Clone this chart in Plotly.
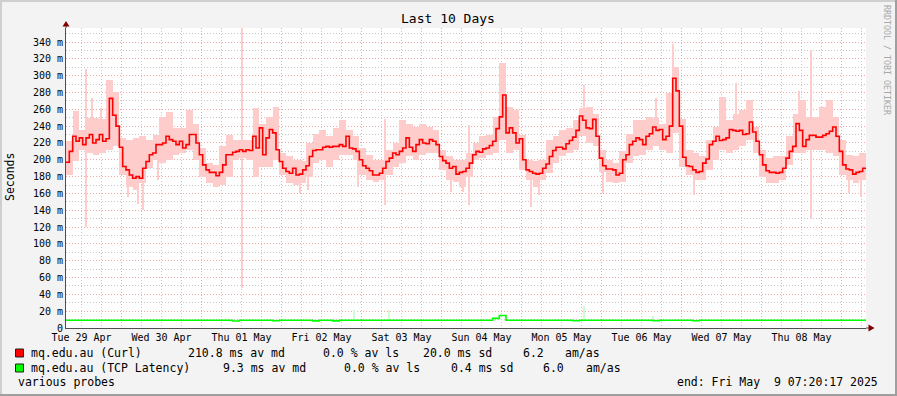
import pandas as pd
import plotly.graph_objects as go

# ---------------- data ----------------
END = pd.Timestamp("2025-05-09 07:20:17")
START = END - pd.Timedelta(days=10)

# hourly median of the Curl probe, ms
curl_median_ms = [
    197, 210, 228, 222, 226, 218, 226, 230, 220, 224,
    230, 222, 225, 273, 253, 240, 215, 192, 188, 182,
    178, 180, 178, 190, 198, 206, 208, 218, 218, 220,
    228, 224, 222, 218, 222, 214, 218, 230, 230, 220,
    206, 194, 188, 185, 185, 181, 185, 194, 206, 206,
    209, 210, 212, 210, 212, 211, 228, 214, 238, 206,
    226, 236, 232, 212, 198, 190, 186, 184, 190, 182,
    183, 188, 193, 204, 211, 212, 212, 215, 216, 215,
    216, 216, 218, 216, 228, 214, 213, 210, 200, 193,
    190, 187, 182, 182, 184, 190, 198, 202, 208, 206,
    210, 214, 226, 215, 210, 218, 224, 220, 219, 224,
    222, 218, 204, 199, 196, 190, 192, 183, 185, 186,
    190, 196, 206, 210, 209, 213, 214, 217, 222, 237,
    251, 277, 232, 238, 232, 220, 225, 200, 188, 186,
    184, 183, 184, 190, 195, 204, 211, 215, 215, 213,
    219, 223, 227, 235, 252, 247, 238, 237, 248, 228,
    202, 193, 189, 189, 188, 182, 184, 200, 206, 218,
    222, 226, 224, 218, 228, 231, 239, 235, 236, 224,
    228, 240, 297, 282, 240, 203, 193, 192, 188, 185,
    186, 196, 201, 218, 222, 228, 223, 224, 226, 236,
    235, 234, 235, 230, 231, 245, 233, 222, 206, 194,
    187, 185, 185, 184, 185, 190, 202, 210, 216, 243,
    235, 216, 224, 229, 229, 227, 227, 229, 231, 234,
    239, 228, 210, 194, 189, 188, 183, 185, 186, 190,
]

# 2-hourly smoke band (min / max of the pings), ms
curl_band_low_ms = [
    182, 198, 212, 208, 206, 208, 212, 216, 182, 168,
    164, 172, 190, 200, 196, 200, 206, 208, 212, 200,
    180, 172, 168, 170, 180, 200, 202, 200, 180, 192,
    192, 200, 182, 172, 170, 172, 180, 196, 200, 192,
    200, 206, 206, 200, 182, 176, 174, 176, 182, 192,
    196, 204, 200, 206, 208, 208, 188, 176, 174, 168,
    180, 200, 202, 206, 208, 224, 208, 212, 188, 176,
    168, 176, 184, 196, 204, 208, 212, 228, 220, 216,
    186, 174, 172, 174, 196, 204, 206, 212, 216, 212,
    208, 232, 192, 182, 176, 176, 188, 200, 212, 208,
    212, 216, 224, 208, 180, 172, 172, 176, 194, 208,
    208, 212, 212, 212, 208, 204, 182, 176, 172, 176,
]
curl_band_high_ms = [
    222, 258, 235, 250, 250, 248, 295, 281, 226, 224,
    226, 228, 224, 230, 251, 257, 238, 238, 259, 243,
    214, 196, 194, 216, 230, 224, 224, 224, 262, 242,
    251, 263, 208, 204, 200, 198, 220, 231, 235, 228,
    238, 247, 236, 228, 214, 206, 200, 200, 212, 220,
    247, 243, 239, 243, 239, 235, 212, 204, 200, 200,
    208, 220, 228, 230, 251, 315, 263, 259, 230, 200,
    198, 200, 224, 228, 235, 238, 247, 262, 263, 255,
    212, 200, 196, 210, 231, 247, 247, 251, 250, 243,
    279, 310, 248, 212, 208, 205, 224, 239, 275, 247,
    255, 259, 271, 239, 212, 202, 204, 204, 228, 255,
    271, 251, 251, 263, 271, 251, 224, 206, 204, 208,
]

# isolated smoke outliers: hour after start, low, high (ms)
curl_spike_hour = [5.9, 7.8, 10.6, 18.5, 21.5, 23.0, 27.5, 52.9, 70.3, 72.5,
                   87.5, 95.8, 115.5, 119.0, 121.0, 139.5, 142.0, 155.4, 161.0,
                   177.0, 182.0, 188.5, 201.0, 220.0, 223.5, 235.0, 238.5]
curl_spike_low_ms = [120, 215, 210, 156, 148, 140, 176, 47, 160, 164,
                     168, 146, 162, 162, 146, 144, 158, 228, 160,
                     216, 240, 158, 212, 212, 130, 160, 156]
curl_spike_high_ms = [308, 273, 262, 200, 200, 200, 230, 357, 200, 210,
                      228, 248, 200, 200, 241, 200, 200, 289, 212,
                      273, 338, 200, 291, 282, 330, 200, 200]

# 2-hourly median of the TCP latency probe, ms
tcp_median_ms = [
    9.3, 9.3, 9.3, 9.3, 9.3, 9.3, 9.3, 9.3, 9.3, 9.3,
    9.3, 9.3, 9.3, 9.3, 9.3, 9.3, 9.3, 9.3, 9.3, 9.3,
    9.3, 9.3, 9.3, 9.3, 9.3, 8.4, 9.3, 9.3, 9.3, 9.3,
    9.3, 8.6, 9.3, 9.3, 9.3, 9.3, 9.3, 8.5, 9.3, 9.3,
    8.5, 9.3, 9.3, 9.3, 9.3, 9.3, 9.3, 9.3, 9.3, 9.3,
    9.3, 9.3, 9.3, 9.3, 9.3, 9.3, 9.3, 9.3, 9.3, 9.3,
    9.3, 9.3, 9.3, 9.3, 11.5, 14.8, 9.3, 9.3, 9.3, 9.3,
    9.3, 9.3, 9.3, 9.3, 9.3, 9.3, 8.6, 9.3, 9.3, 9.3,
    9.3, 9.3, 9.3, 9.3, 9.3, 9.3, 9.3, 9.3, 8.6, 9.3,
    9.3, 9.3, 9.3, 9.3, 8.6, 9.3, 9.3, 9.3, 9.3, 9.3,
    9.3, 9.3, 9.3, 9.3, 9.3, 9.3, 9.3, 9.3, 9.3, 9.3,
    9.3, 9.3, 9.3, 9.3, 9.3, 9.3, 9.3, 9.3, 9.3, 9.3,
]
tcp_spike_hour = [86.5, 97.0, 155.3, 176.0]
tcp_spike_low_ms = [9, 9, 9, 9]
tcp_spike_high_ms = [22, 22, 26, 14]

y_tick_values = list(range(0, 341, 20))
y_tick_labels = ["0"] + [f"{v} m" for v in y_tick_values[1:]]

series_names = ["mq.edu.au (Curl)", "mq.edu.au (TCP Latency)"]
series_colors = ["#FF0000", "#00FF00"]
legend_stats = [
    ["210.8 ms av md", "0.0 % av ls", "20.0 ms sd", "6.2", "am/as"],
    ["9.3 ms av md", "0.0 % av ls", "0.4 ms sd", "6.0", "am/as"],
]
comment_text = "various probes"
end_text = "end: Fri May\u00a0 9 07:20:17 2025"
title_text = "Last 10 Days"
y_title = "Seconds"
watermark = "RRDTOOL / TOBI OETIKER"

# ---------------- layout geometry ----------------
W, H = 897, 396
L, R, T, B = 66, 31, 28, 68
PW, PH = W - L - R, H - T - B
MONO = "DejaVu Sans Mono"


def px(x):
    return (x - L) / PW


def py(y):
    return (H - B - y) / PH


HOUR_MS = 3600 * 1000

fig = go.Figure()

# smoke band
band_x = [START + pd.Timedelta(hours=2 * k + 1) for k in range(len(curl_band_low_ms))]
fig.add_trace(go.Bar(
    x=band_x, base=curl_band_low_ms,
    y=[h - l for h, l in zip(curl_band_high_ms, curl_band_low_ms)],
    width=2 * HOUR_MS, marker=dict(color="#FFCCCC", line=dict(width=0)),
    hoverinfo="skip", showlegend=False))

fig.add_trace(go.Bar(
    x=[START + pd.Timedelta(hours=h) for h in curl_spike_hour], base=curl_spike_low_ms,
    y=[h - l for h, l in zip(curl_spike_high_ms, curl_spike_low_ms)],
    width=0.33 * HOUR_MS, marker=dict(color="#FFCCCC", line=dict(width=0)),
    hoverinfo="skip", showlegend=False))

fig.add_trace(go.Bar(
    x=[START + pd.Timedelta(hours=h) for h in tcp_spike_hour], base=tcp_spike_low_ms,
    y=[h - l for h, l in zip(tcp_spike_high_ms, tcp_spike_low_ms)],
    width=0.33 * HOUR_MS, marker=dict(color="#CCFFCC", line=dict(width=0)),
    hoverinfo="skip", showlegend=False))

# TCP latency median
tcp_x = [START + pd.Timedelta(hours=2 * k) for k in range(len(tcp_median_ms))] + [END]
fig.add_trace(go.Scatter(
    x=tcp_x, y=tcp_median_ms + [tcp_median_ms[-1]], mode="lines",
    line=dict(color=series_colors[1], width=1.6, shape="hv"),
    hoverinfo="skip", showlegend=False))

# Curl median
curl_x = [START + pd.Timedelta(hours=k) for k in range(len(curl_median_ms))] + [END]
fig.add_trace(go.Scatter(
    x=curl_x, y=curl_median_ms + [curl_median_ms[-1]], mode="lines",
    line=dict(color=series_colors[0], width=1.6, shape="hv"),
    hoverinfo="skip", showlegend=False))

MAJOR = "#F0A8A8"
MINOR = "#C8C8C8"
DASH = "1px,2px"

fig.update_layout(
    width=W, height=H,
    margin=dict(l=L, r=R, t=T, b=B, pad=0),
    paper_bgcolor="#F3F3F3", plot_bgcolor="#FFFFFF",
    barmode="overlay", bargap=0,
    font=dict(family=MONO, color="#000000"),
    xaxis=dict(
        type="date", range=[START, END],
        tick0="2025-04-30", dtick=86400000, tickformat="%a %d %b",
        ticklabelmode="period", ticks="",
        showgrid=True, gridcolor=MAJOR, griddash=DASH, gridwidth=1,
        minor=dict(tick0="2025-04-30", dtick=6 * HOUR_MS, showgrid=True,
                   gridcolor=MINOR, griddash=DASH, gridwidth=1),
        showline=True, linecolor="#505050", linewidth=1,
        zeroline=False, tickfont=dict(family=MONO, size=10, color="#000000"),
    ),
    yaxis=dict(
        range=[0, 356.7], tickmode="array", tickvals=y_tick_values, ticktext=y_tick_labels,
        ticks="", showgrid=True, gridcolor=MAJOR, griddash=DASH, gridwidth=1,
        minor=dict(tick0=0, dtick=10, showgrid=True, gridcolor=MINOR, griddash=DASH, gridwidth=1),
        showline=True, linecolor="#505050", linewidth=1, zeroline=False,
        tickfont=dict(family=MONO, size=10, color="#000000"),
    ),
)

shapes = []
# frame (3D border)
shapes.append(dict(type="rect", xref="paper", yref="paper", x0=px(0), x1=px(W), y0=py(0), y1=py(2),
                   fillcolor="#CFCFCF", line=dict(width=0), layer="above"))
shapes.append(dict(type="rect", xref="paper", yref="paper", x0=px(0), x1=px(2), y0=py(0), y1=py(H),
                   fillcolor="#CFCFCF", line=dict(width=0), layer="above"))
shapes.append(dict(type="rect", xref="paper", yref="paper", x0=px(0), x1=px(W), y0=py(H - 2), y1=py(H),
                   fillcolor="#9F9F9F", line=dict(width=0), layer="above"))
shapes.append(dict(type="rect", xref="paper", yref="paper", x0=px(W - 2), x1=px(W), y0=py(0), y1=py(H),
                   fillcolor="#9F9F9F", line=dict(width=0), layer="above"))
# axis arrows
shapes.append(dict(type="line", xref="paper", yref="paper", x0=px(L), x1=px(L), y0=py(T), y1=py(25),
                   line=dict(color="#505050", width=1)))
shapes.append(dict(type="path", xref="paper", yref="paper",
                   path=f"M {px(L - 3.5)} {py(26.5)} L {px(L + 3.5)} {py(26.5)} L {px(L)} {py(21)} Z",
                   fillcolor="#800000", line=dict(width=0)))
shapes.append(dict(type="line", xref="paper", yref="paper", x0=px(L + PW), x1=px(869), y0=py(H - B), y1=py(H - B),
                   line=dict(color="#505050", width=1)))
shapes.append(dict(type="path", xref="paper", yref="paper",
                   path=f"M {px(868.5)} {py(H - B - 3.5)} L {px(868.5)} {py(H - B + 3.5)} L {px(874.5)} {py(H - B)} Z",
                   fillcolor="#800000", line=dict(width=0)))
# legend swatches
for i, col in enumerate(series_colors):
    yc = 353 + 15 * i
    shapes.append(dict(type="rect", xref="paper", yref="paper", x0=px(15.5), x1=px(23.5),
                       y0=py(yc - 4), y1=py(yc + 4), fillcolor=col,
                       line=dict(color="#202020", width=1)))
fig.update_layout(shapes=shapes)

annotations = []


def text(x, y, s, size=11.5, xanchor="left", color="#000000", angle=0):
    annotations.append(dict(x=px(x), y=py(y), xref="paper", yref="paper", text=s,
                            showarrow=False, xanchor=xanchor, yanchor="middle",
                            textangle=angle,
                            font=dict(family=MONO, size=size, color=color)))


text(448, 19, title_text, size=13, xanchor="center")
text(10, 177, y_title, size=11.5, xanchor="center", angle=-90)
text(887, 60, watermark, size=8.3, xanchor="center", color="#A8A8A8", angle=90)

stat_x = [[186, 321, 421, 521, 563], [221, 342, 449, 541, 584]]
for i, name in enumerate(series_names):
    yc = 353 + 15 * i
    text(29, yc, name)
    for s, x in zip(legend_stats[i], stat_x[i]):
        text(x, yc, s)
text(16, 382, comment_text)
text(880, 382, end_text, xanchor="right")
fig.update_layout(annotations=annotations)

fig.write_html(
    "out.html",
    config={"displayModeBar": False},
    post_script="document.body.style.margin='0';document.body.style.padding='0';"
                "document.body.style.overflow='hidden';",
)
